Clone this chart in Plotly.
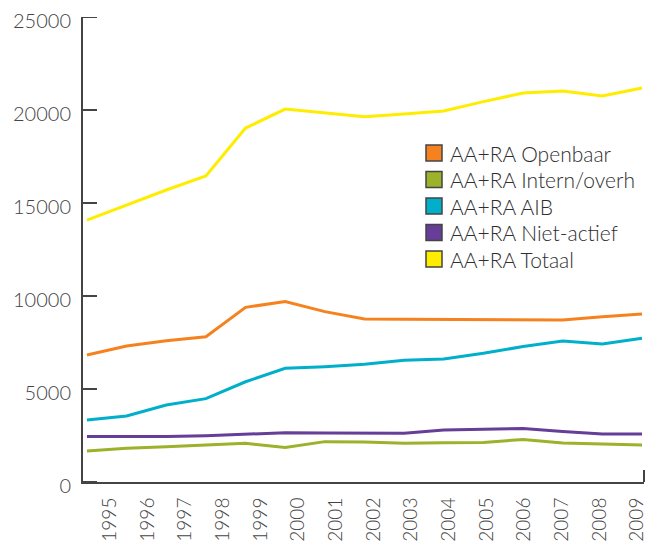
import plotly.graph_objects as go

years = list(range(1995, 2010))
year_labels = [str(y) for y in years]
y_ticks = [0, 5000, 10000, 15000, 20000, 25000]

openbaar = [6830, 7310, 7600, 7810, 9390, 9700, 9160, 8760, 8750, 8740, 8730, 8720, 8710, 8880, 9030]
intern = [1670, 1810, 1900, 1990, 2080, 1850, 2170, 2150, 2080, 2110, 2130, 2290, 2100, 2040, 1990]
aib = [3330, 3550, 4140, 4480, 5390, 6110, 6200, 6330, 6540, 6610, 6920, 7280, 7580, 7420, 7730]
niet_actief = [2440, 2440, 2440, 2490, 2560, 2650, 2630, 2630, 2620, 2800, 2830, 2870, 2710, 2580, 2580]
totaal = [14080, 14900, 15700, 16450, 19030, 20050, 19860, 19640, 19780, 19950, 20450, 20910, 21020, 20750, 21180]

series_names = ["AA+RA Openbaar", "AA+RA Intern/overh", "AA+RA AIB",
                "AA+RA Niet-actief", "AA+RA Totaal"]
series_values = [openbaar, intern, aib, niet_actief, totaal]
series_colors = ["#F5821F", "#9BB22A", "#00AFC9", "#663D97", "#FFED00"]

FONT = "Lato Light, Lato, Open Sans, sans-serif"
AXIS_COL = "#444444"

W, H = 646, 547
ML, MR, MT, MB = 83, 2, 17, 65
PW, PH = W - ML - MR, H - MT - MB


def px_x(p):
    return (p - ML) / PW


def px_y(p):
    return (H - MB - p) / PH


fig = go.Figure()
for name, vals, col in zip(series_names, series_values, series_colors):
    fig.add_trace(go.Scatter(x=years, y=vals, mode="lines", name=name,
                             line=dict(color=col, width=3), showlegend=False,
                             hoverinfo="skip"))

shapes = []
annotations = []
# hand-built legend (square swatches + labels)
for i, (name, col) in enumerate(zip(series_names, series_colors)):
    cy = 153 + i * 26.5
    shapes.append(dict(type="rect", xref="paper", yref="paper",
                       x0=px_x(426), x1=px_x(442), y0=px_y(cy + 8), y1=px_y(cy - 8),
                       fillcolor=col, line=dict(color="#444444", width=1.5), layer="above"))
    annotations.append(dict(xref="paper", yref="paper", x=px_x(448), y=px_y(cy),
                            xanchor="left", yanchor="middle", text=name, showarrow=False,
                            font=dict(family=FONT, size=21, color="#2e2e2e")))

# inside tick marks on the y axis
for v in y_ticks:
    shapes.append(dict(type="line", xref="paper", yref="y", xsizemode="pixel",
                       xanchor=0, x0=0, x1=14, y0=v, y1=v,
                       line=dict(color=AXIS_COL, width=2)))

# small closing tick at the right end of the x axis
shapes.append(dict(type="line", xref="paper", yref="paper", x0=1, x1=1,
                   ysizemode="pixel", yanchor=0, y0=0, y1=12,
                   line=dict(color=AXIS_COL, width=2)))

# year tick labels sit slightly offset from the data points in the reference
tickvals = [years[0] + 0.58 + (y - years[0]) * 0.95 for y in years]

fig.update_layout(
    width=W, height=H,
    margin=dict(l=ML, r=MR, t=MT, b=MB, autoexpand=False),
    paper_bgcolor="white", plot_bgcolor="white",
    font=dict(family=FONT, color=AXIS_COL),
    showlegend=False,
    xaxis=dict(range=[1994.9, 2009.05], tickmode="array", tickvals=tickvals,
               ticktext=year_labels, tickangle=-90, showgrid=False, zeroline=False,
               showline=True, linecolor=AXIS_COL, linewidth=2, ticks="",
               tickfont=dict(family=FONT, size=19, color=AXIS_COL),
               ticklabelstandoff=6, ticklabeloverflow="allow", automargin=False),
    yaxis=dict(range=[0, 25000], tickmode="array",
               tickvals=y_ticks, ticktext=[str(v) for v in y_ticks],
               showgrid=False, zeroline=False, showline=True, linecolor=AXIS_COL,
               linewidth=2, ticks="",
               tickfont=dict(family=FONT, size=20, color=AXIS_COL),
               ticklabelstandoff=6, ticklabelshift=4, automargin=False),
    shapes=shapes,
    annotations=annotations,
)

fig.write_html("out.html", config={"displayModeBar": False},
               post_script="document.body.style.margin='0';")
